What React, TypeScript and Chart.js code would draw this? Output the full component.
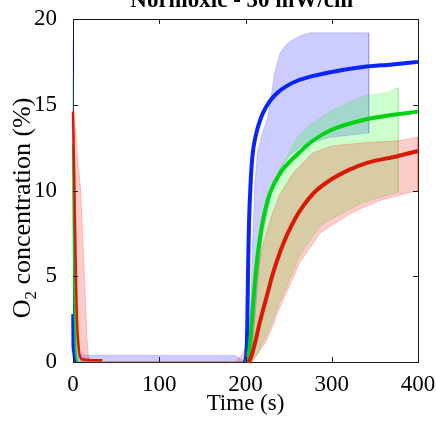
import React, { useEffect, useRef } from "react";
import { Chart, registerables } from "chart.js";

Chart.register(...registerables);

// ---- text ----
const chartTitle = "Normoxic - 30 mW/cm";
const chartTitleSup = "2";
const xTitle = "Time (s)";
const yTitleHead = "O";
const yTitleSub = "2";
const yTitleTail = " concentration (%)";

// ---- axes ----
const xTicks = [0, 100, 200, 300, 400];
const yTicks = [0, 5, 10, 15, 20];

// ---- mean curves, [time (s), O2 (%)] ----
// decay right after start
const blueDrop = [[0, 2.8], [0.3, 1.0], [1, 0.6], [2, 0.2], [4, 0]];
const greenDrop = [[0, 12.7], [0.7, 8], [1.5, 4], [2.5, 1.5], [3.5, 0.4], [5, 0]];
const redDrop = [[0, 14.6], [1, 12], [2, 9], [3, 6], [4, 3.5], [5, 2], [6, 1.2], [8, 0.3], [12, 0.15], [34, 0.1]];
// recovery
const blueRise = [[199, 0], [201, 0.5], [202, 2], [203, 5.5], [204, 8], [206, 10.5], [208, 12], [211, 13], [215, 13.8], [220, 14.5], [228, 15.2], [237, 15.7], [248, 16.1], [260, 16.4], [280, 16.7], [298, 16.9], [336, 17.2], [370, 17.35], [400, 17.5]];
const greenRise = [[201, 0], [203, 0.2], [206, 1.5], [209, 3.5], [212, 5.3], [215, 6.6], [220, 8.2], [228, 9.8], [240, 11.0], [260, 12.1], [278, 12.9], [298, 13.5], [336, 14.1], [370, 14.4], [400, 14.6]];
const redRise = [[203, 0], [205, 0.1], [210, 0.9], [217, 2.4], [225, 3.9], [232, 5.2], [240, 6.4], [248, 7.4], [258, 8.4], [267, 9.1], [280, 9.9], [298, 10.6], [320, 11.2], [340, 11.6], [376, 12.0], [400, 12.3]];

// ---- spread bands, [time (s), O2 (%)] ----
const blueUpper = [[0, 18.7], [0.5, 3], [2, 1], [6, 0.5], [15, 0.4], [188, 0.38], [198, 0.05], [203, 0.3], [205, 2], [207, 5], [209, 8], [211, 10.5], [214, 12.3], [220, 13.4], [226, 14.3], [230, 15.6], [234, 16.9], [240, 18], [247, 18.5], [255, 18.8], [265, 19.05], [275, 19.2], [343, 19.2]];
const blueLower = [[0, 0], [206, 0], [210, 2], [215, 5], [220, 7.5], [230, 9.8], [240, 11.2], [250, 12], [265, 12.6], [298, 13.1], [343, 13.35]];
const greenUpper = [[0, 16.6], [0.5, 12], [2, 6], [4, 1.5], [7, 0.2], [10, 0], [203, 0], [206, 1.5], [210, 4], [214, 6.5], [220, 8.6], [228, 10], [240, 11.3], [248, 11.9], [260, 13.1], [275, 13.8], [298, 14.6], [336, 15.5], [363, 15.7], [377, 16.0]];
const greenLower = [[0, 0], [206, 0], [212, 0.3], [225, 1.6], [240, 3.5], [263, 6.2], [286, 7.9], [298, 8.3], [336, 9.3], [377, 9.9]];
const redUpper = [[0, 14.8], [3, 13.5], [6, 11.5], [9, 10], [12, 6.5], [14, 4.2], [16, 1.5], [18, 0.3], [21, 0], [188, 0], [197, 0.5], [203, 1.3], [206, 3], [210, 4.5], [220, 6.8], [230, 8.5], [240, 9.8], [255, 11], [278, 12.2], [300, 12.6], [340, 12.8], [377, 12.9], [400, 13.1]];
const redLower = [[0, 14], [1, 10], [2, 6], [3, 3], [4, 1], [10, 0], [205, 0], [209, 0.1], [225, 1.3], [240, 3.2], [263, 5.8], [286, 7.5], [298, 7.9], [320, 8.6], [336, 9.0], [355, 9.4], [376, 9.7], [400, 10.0]];

const BLUE = "rgb(10,36,255)";
const GREEN = "rgb(0,210,20)";
const RED = "rgb(215,25,5)";
const FONT = "'Liberation Serif', 'Times New Roman', serif";
const FS = 23;
const LABEL_FS = 26;

const pts = (a: number[][]) => a.map(([x, y]) => ({ x, y }));
const band = (up: number[][], lo: number[][]) => pts([...up, ...lo.slice().reverse()]);

const lineDs = (data: number[][], color: string, width: number) => ({
  data: pts(data),
  borderColor: color,
  borderWidth: width,
  pointRadius: 0,
  cubicInterpolationMode: "monotone",
  fill: false,
  clip: 4,
});

const bandDs = (up: number[][], lo: number[][], fillCol: string, edgeCol: string) => ({
  data: band(up, lo),
  borderColor: edgeCol,
  backgroundColor: fillCol,
  borderWidth: 0.8,
  pointRadius: 0,
  tension: 0,
  fill: "shape",
  clip: 2,
});

const decorPlugin = {
  id: "decor",
  beforeDatasetsDraw(chart: any) {
    const { ctx, chartArea } = chart;
    const { left, top, right, bottom } = chartArea;
    ctx.save();
    ctx.strokeStyle = "#1a1a1a";
    ctx.lineWidth = 1;
    ctx.strokeRect(Math.round(left) + 0.5, Math.round(top) + 0.5, Math.round(right - left), Math.round(bottom - top));
    ctx.restore();
  },
  afterDatasetsDraw(chart: any) {
    const { ctx, chartArea, scales } = chart;
    const { left, top, right, bottom } = chartArea;
    const tl = 5;
    ctx.save();
    ctx.strokeStyle = "#1a1a1a";
    ctx.lineWidth = 1;
    ctx.beginPath();
    for (const v of xTicks) {
      const px = Math.round(scales.x.getPixelForValue(v)) + 0.5;
      ctx.moveTo(px, bottom);
      ctx.lineTo(px, bottom - tl);
      ctx.moveTo(px, top);
      ctx.lineTo(px, top + tl);
    }
    for (const v of yTicks) {
      const py = Math.round(scales.y.getPixelForValue(v)) + 0.5;
      ctx.moveTo(left, py);
      ctx.lineTo(left + tl, py);
      ctx.moveTo(right, py);
      ctx.lineTo(right - tl, py);
    }
    ctx.stroke();
    ctx.restore();
  },
  afterDraw(chart: any) {
    const { ctx, chartArea } = chart;
    const cx = (chartArea.left + chartArea.right) / 2;
    ctx.save();
    ctx.fillStyle = "#000";
    ctx.textBaseline = "alphabetic";
    ctx.textAlign = "left";
    // title (its top is cut by the canvas edge)
    const mainFont = `bold ${FS}px ${FONT}`;
    const supFont = `bold 15px ${FONT}`;
    ctx.font = mainFont;
    const wMain = ctx.measureText(chartTitle).width;
    ctx.font = supFont;
    const wSup = ctx.measureText(chartTitleSup).width;
    const x0 = cx - (wMain + wSup) / 2;
    ctx.font = mainFont;
    ctx.fillText(chartTitle, x0, 7);
    ctx.font = supFont;
    ctx.fillText(chartTitleSup, x0 + wMain + 1, -3);

    // y-axis label with subscript
    const f = `${LABEL_FS}px ${FONT}`;
    const fs = `17px ${FONT}`;
    ctx.font = f;
    const wH = ctx.measureText(yTitleHead).width;
    const wT = ctx.measureText(yTitleTail).width;
    ctx.font = fs;
    const wS = ctx.measureText(yTitleSub).width;
    const total = wH + wS + wT;
    ctx.translate(30, 208);
    ctx.rotate(-Math.PI / 2);
    let x = -total / 2;
    ctx.font = f;
    ctx.fillText(yTitleHead, x, 0);
    x += wH;
    ctx.font = fs;
    ctx.fillText(yTitleSub, x, 6);
    x += wS;
    ctx.font = f;
    ctx.fillText(yTitleTail, x, 0);
    ctx.restore();
  },
};

export default function App() {
  const ref = useRef<HTMLCanvasElement | null>(null);

  useEffect(() => {
    document.body.style.margin = "0";
    const canvas = ref.current;
    if (!canvas) return;
    const chart = new Chart(canvas, {
      type: "line",
      data: {
        datasets: [
          lineDs(redRise, RED, 4),
          lineDs(greenRise, GREEN, 4),
          lineDs(blueRise, BLUE, 4),
          lineDs(redDrop, RED, 2.5),
          lineDs(greenDrop, GREEN, 2),
          lineDs(blueDrop, BLUE, 3.5),
          bandDs(redUpper, redLower, "rgba(255,0,0,0.2)", "rgba(255,0,0,0.25)"),
          bandDs(greenUpper, greenLower, "rgba(0,255,0,0.2)", "rgba(0,200,0,0.2)"),
          bandDs(blueUpper, blueLower, "rgba(0,0,255,0.2)", "rgba(0,0,255,0.2)"),
        ] as any,
      },
      options: {
        animation: false,
        responsive: false,
        devicePixelRatio: 1,
        layout: { padding: { top: 19, right: 18, left: 0, bottom: 0 } },
        plugins: {
          legend: { display: false },
          title: { display: false },
          tooltip: { enabled: false },
        },
        scales: {
          x: {
            type: "linear",
            min: 0,
            max: 400,
            grid: { display: false },
            border: { display: false },
            ticks: {
              stepSize: 100,
              padding: 1,
              maxRotation: 0,
              color: "#000",
              font: { family: FONT, size: FS },
            },
            title: {
              display: true,
              text: xTitle,
              color: "#000",
              font: { family: FONT, size: FS },
              padding: { top: 0, bottom: 4 },
            },
            afterFit: (s: any) => {
              s.height = 60;
              s.paddingLeft = 0;
              s.paddingRight = 0;
            },
          },
          y: {
            type: "linear",
            min: 0,
            max: 20,
            grid: { display: false },
            border: { display: false },
            ticks: {
              stepSize: 5,
              padding: 8,
              color: "#000",
              font: { family: FONT, size: FS },
            },
            afterFit: (s: any) => {
              s.width = 73;
              s.paddingTop = 0;
              s.paddingBottom = 0;
            },
          },
        },
      },
      plugins: [decorPlugin],
    });
    return () => chart.destroy();
  }, []);

  return (
    <div style={{ width: 436, height: 422, position: "relative", background: "#fff" }}>
      <canvas ref={ref} width={436} height={422} style={{ display: "block" }} />
    </div>
  );
}
